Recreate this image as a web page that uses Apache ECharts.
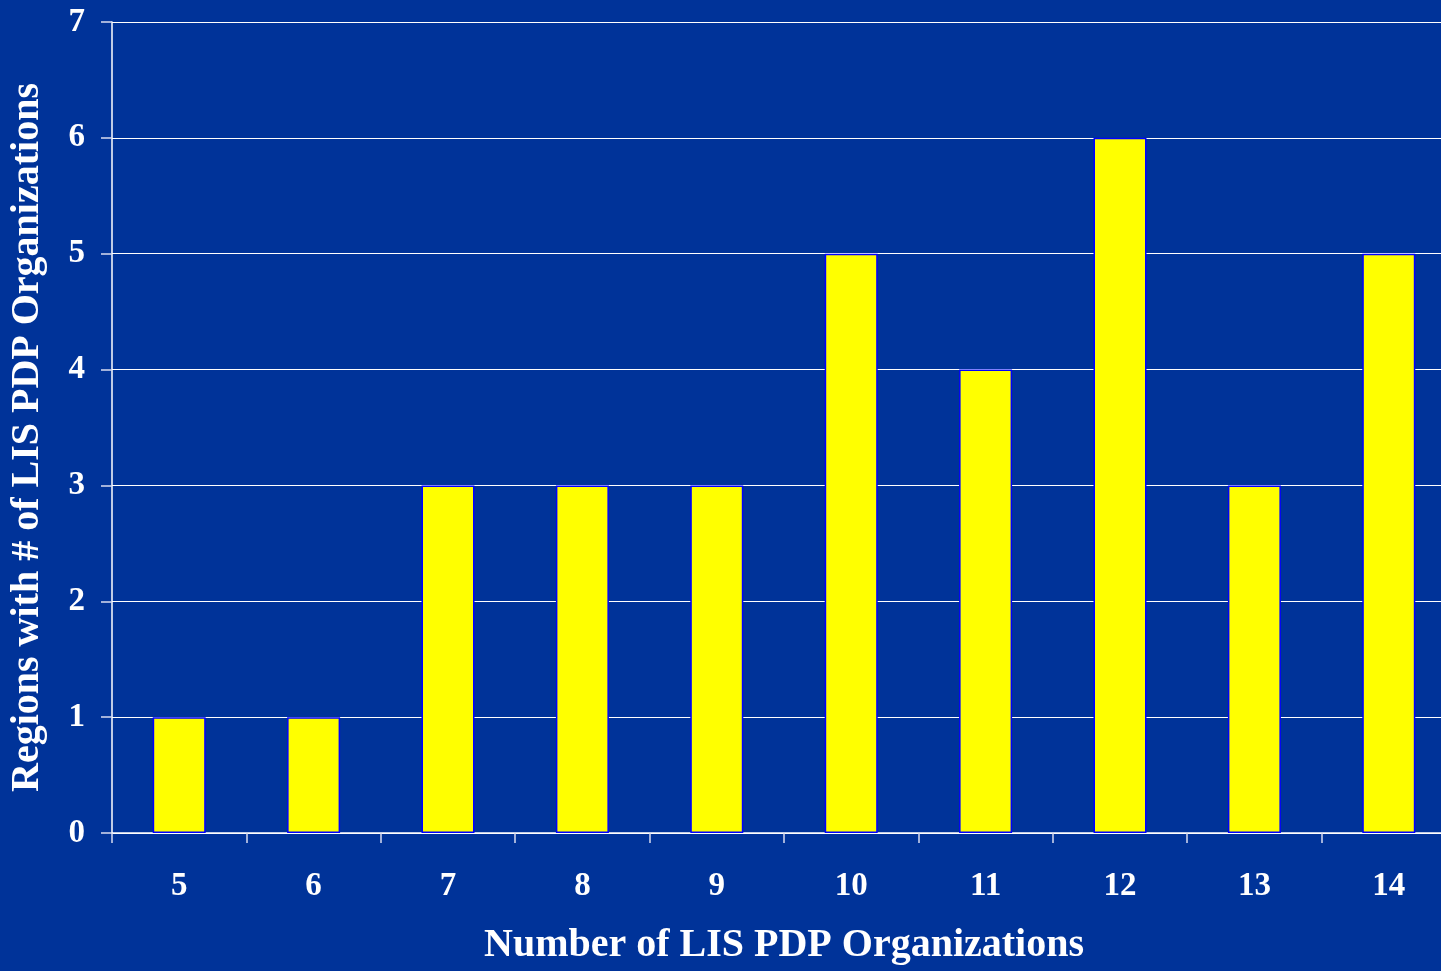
<!DOCTYPE html>
<html>
<head>
<meta charset="utf-8">
<script src="https://cdn.jsdelivr.net/npm/echarts@6/dist/echarts.min.js"></script>
<style>
html,body{margin:0;padding:0;background:#003399;overflow:hidden;width:1441px;height:971px;}
#chart{width:1470px;height:971px;}
</style>
</head>
<body>
<div id="chart"></div>
<script>
const categories = ['5','6','7','8','9','10','11','12','13','14'];
const values = [1,1,3,3,3,5,4,6,3,5];
const yTicks = {min:0, max:7, interval:1};
const xTitle = 'Number of LIS PDP Organizations';
const yTitle = 'Regions with # of LIS PDP Organizations';

const font = 'Liberation Serif, Times New Roman, serif';
const chart = echarts.init(document.getElementById('chart'), null, {renderer:'canvas'});
chart.setOption({
  backgroundColor:'#003399',
  animation:false,
  grid:{left:110, top:22, width:1346, height:813, containLabel:false},
  xAxis:{
    type:'category',
    data:categories,
    name:xTitle,
    nameLocation:'middle',
    nameGap:93,
    nameTextStyle:{color:'#fff', fontFamily:font, fontWeight:'bold', fontSize:40},
    axisLine:{show:true, lineStyle:{color:'#ffffff', width:1.5}},
    axisTick:{show:true, length:10, lineStyle:{color:'#d8dcf0', width:1.5}},
    axisLabel:{color:'#fff', fontFamily:font, fontWeight:'bold', fontSize:33, margin:37},
    splitLine:{show:false}
  },
  yAxis:{
    type:'value',
    min:yTicks.min, max:yTicks.max, interval:yTicks.interval,
    name:yTitle,
    nameLocation:'middle',
    nameGap:64,
    nameTextStyle:{color:'#fff', fontFamily:font, fontWeight:'bold', fontSize:40, padding:[0,20,0,0]},
    axisLine:{show:true, lineStyle:{color:'#ffffff', width:1.5}},
    axisTick:{show:true, length:11, lineStyle:{color:'#d8dcf0', width:1.5}},
    axisLabel:{color:'#fff', fontFamily:font, fontWeight:'bold', fontSize:33, margin:27},
    splitLine:{show:true, lineStyle:{color:'#ffffff', width:1.2}}
  },
  series:[{
    type:'bar',
    data:values,
    barWidth:53,
    itemStyle:{color:'#ffff00', borderColor:'#0000ff', borderWidth:1.5}
  }]
});
</script>
</body>
</html>
